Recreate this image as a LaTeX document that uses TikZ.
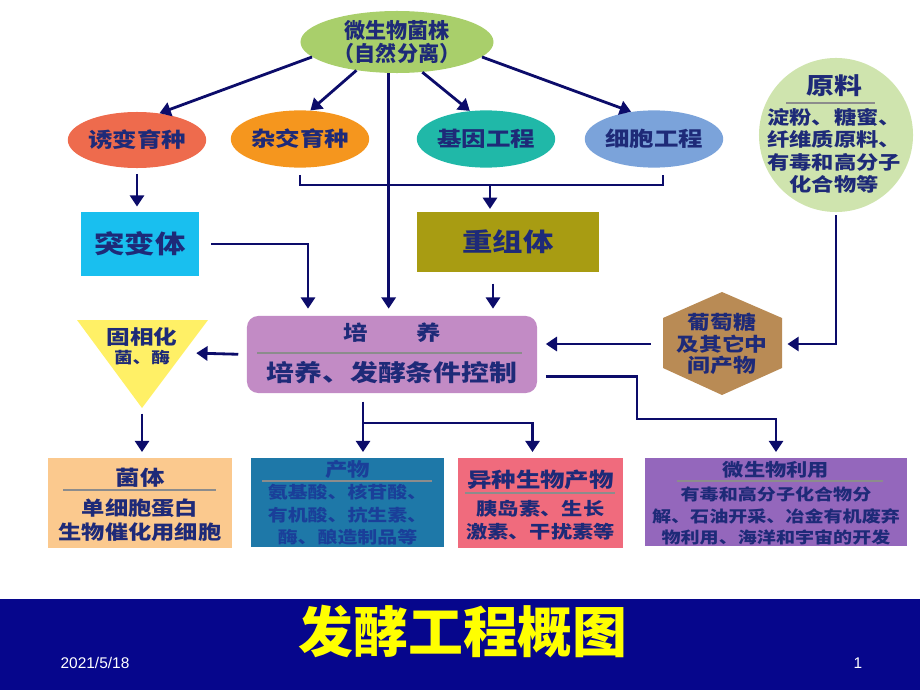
\documentclass[tikz,border=0pt]{standalone}
\usepackage{fontspec}
\setmainfont{Noto Sans CJK SC}[FakeStretch=1.2]
\newfontfamily\plaincjk{Noto Sans CJK SC}
\newfontfamily\latinsans{Liberation Sans}
\usepackage{tikz}
\usetikzlibrary{arrows.meta, positioning, shapes.geometric, calc}

\definecolor{inkblue}{HTML}{1E2A78}
\definecolor{linkblue}{HTML}{0C0C6A}
\definecolor{sepgray}{HTML}{8C8C8C}
\definecolor{srcgreen}{HTML}{A9CF6B}
\definecolor{mutcoral}{HTML}{EE6B4D}
\definecolor{hyborange}{HTML}{F5961E}
\definecolor{geneteal}{HTML}{20B8A8}
\definecolor{cellblue}{HTML}{7BA3DA}
\definecolor{mutcyan}{HTML}{19BFEF}
\definecolor{recolive}{HTML}{A89C12}
\definecolor{culpink}{HTML}{C28BC5}
\definecolor{rawgreen}{HTML}{CFE4AE}
\definecolor{glubrown}{HTML}{B98B55}
\definecolor{immobyellow}{HTML}{FFF066}
\definecolor{cellpeach}{HTML}{FBC98E}
\definecolor{prodblue}{HTML}{1E78A8}
\definecolor{prodink}{HTML}{1A3F99}
\definecolor{heterred}{HTML}{F06B7D}
\definecolor{usepurple}{HTML}{9467BC}
\definecolor{barblue}{HTML}{06068C}
\definecolor{titleyellow}{HTML}{FFFF00}

\begin{document}
\begin{tikzpicture}[
  x=0.025cm, y=-0.025cm,
  oval/.style={ellipse, inner sep=0pt, minimum width=3.25cm, minimum height=1.43cm, text=inkblue, font=\bfseries\fontsize{14.5}{16}\selectfont},
  flat/.style={rectangle, inner sep=0pt},
  title/.style={text=inkblue, inner sep=1pt, font=\bfseries\fontsize{14.5}{16}\selectfont},
  body/.style={text=inkblue, align=center, inner sep=1pt},
  arrow/.style={-{Triangle[width=10pt,length=8pt]}, line width=2pt, draw=linkblue},
  link/.style={line width=2pt, draw=linkblue},
  sepline/.style={line width=1.3pt, draw=sepgray}
]
\useasboundingbox (0,0) rectangle (920,690);

% Source strain
\node[oval, fill=srcgreen, minimum width=4.825cm, minimum height=1.55cm, align=center,
  font=\plaincjk\bfseries\fontsize{15}{16.5}\selectfont] (src) at (397,42) {微生物菌株\\（自然分离）};

% Breeding methods
\node[oval, fill=mutcoral, minimum width=3.2cm, minimum height=1.4cm] (mutb) at (137,140) {诱变育种};
\node[oval, fill=hyborange] (hyb) at (300,139) {杂交育种};
\node[oval, fill=geneteal, minimum width=3.325cm] (gene) at (486,139) {基因工程};
\node[oval, fill=cellblue, minimum width=3.3cm] (cellb) at (654,139) {细胞工程};

% Strains obtained
\node[flat, fill=mutcyan, minimum width=2.925cm, minimum height=1.575cm, text=inkblue,
  font=\bfseries\fontsize{18}{20}\selectfont] (mutant) at (140,244) {突变体};
\node[flat, fill=recolive, minimum width=4.55cm, minimum height=1.5cm, text=inkblue,
  font=\bfseries\fontsize{18}{20}\selectfont] (recomb) at (508,242) {重组体};

% Culture box
\node[flat, fill=culpink, rounded corners=8pt, minimum width=7.25cm, minimum height=1.925cm] (culture) at (392,354.5) {};
\node[title] (culture-t) at (392,333) {培\hspace{2.4em}养};
\draw[sepline] (257,353) -- (522,353);
\node[title, font=\bfseries\fontsize{16.5}{18}\selectfont] (culture-b) at (392,373) {培养、发酵条件控制};

% Raw material
\node[circle, fill=rawgreen, minimum size=3.85cm, inner sep=0pt] (raw) at (836,135) {};
\node[title, font=\bfseries\fontsize{16.5}{18}\selectfont] (raw-t) at (834,86) {原料};
\draw[sepline] (786,103) -- (875,103);
\node[body, font=\bfseries\fontsize{13.2}{16}\selectfont] (raw-b) at (834,151) {淀粉、糖蜜、\\纤维质原料、\\有毒和高分子\\化合物等};

% Glucose hexagon
\fill[glubrown] (663,318) -- (722,292) -- (782,318) -- (782,368) -- (722,395) -- (663,368) -- cycle;
\node[body, minimum width=2.975cm, font=\bfseries\fontsize{13.5}{15.5}\selectfont] (glu) at (722,344) {葡萄糖\\及其它中\\间产物};

% Immobilisation triangle
\fill[immobyellow] (77,320) -- (208,320) -- (142,408) -- cycle;
\coordinate (immob-in) at (192,353);
\coordinate (immob-tip) at (142,408);
\node[title, font=\bfseries\fontsize{14}{15}\selectfont] (immob) at (142,337) {固相化};
\node[title, font=\bfseries\fontsize{11}{12}\selectfont] (immob-b) at (142,358) {菌、酶};

% Products
\node[flat, fill=cellpeach, minimum width=4.6cm, minimum height=2.25cm] (cells) at (140,503) {};
\node[title] (cells-t) at (140,478) {菌体};
\draw[sepline] (63,490) -- (216,490);
\node[body, font=\bfseries\fontsize{13.8}{17}\selectfont] (cells-b) at (140,520) {单细胞蛋白\\生物催化用细胞};

\node[flat, fill=prodblue, minimum width=4.825cm, minimum height=2.225cm] (prod) at (347.5,502.5) {};
\node[title, text=prodink, font=\bfseries\fontsize{13.3}{14}\selectfont] (prod-t) at (347.5,469) {产物};
\draw[sepline] (262,481) -- (432,481);
\node[body, text=prodink, font=\bfseries\fontsize{11.8}{16}\selectfont] (prod-b) at (347.5,515) {氨基酸、核苷酸、\\有机酸、抗生素、\\酶、酿造制品等};

\node[flat, fill=heterred, minimum width=4.125cm, minimum height=2.25cm] (heter) at (540.5,503) {};
\node[title] (heter-t) at (540.5,480) {异种生物产物};
\draw[sepline] (465,493) -- (615,493);
\node[body, font=\bfseries\fontsize{12.6}{16.3}\selectfont] (heter-b) at (540.5,520) {胰岛素、生长\\激素、干扰素等};

\node[flat, fill=usepurple, minimum width=6.55cm, minimum height=2.2cm] (use) at (776,502) {};
\node[title, font=\bfseries\fontsize{12.6}{14}\selectfont] (use-t) at (776,470) {微生物利用};
\draw[sepline] (677,481) -- (883,481);
\node[body, font=\bfseries\fontsize{11.3}{15}\selectfont] (use-b) at (776,516) {有毒和高分子化合物分\\解、石油开采、冶金有机废弃\\物利用、海洋和宇宙的开发};

% Connectors
\draw[arrow] (src.190) -- (mutb.50);
\draw[arrow] (src.215) -- (hyb.70);
\draw[arrow, shorten >=5pt] (src.255) -- (src.255 |- culture.north);
\draw[arrow] (src.310) -- (gene.120);
\draw[arrow] (src.350) -- (cellb.130);

\draw[arrow, shorten <=4pt, shorten >=4pt] (mutb.south) -- (mutb.south |- mutant.north);
\coordinate (brk) at (490,185);
\draw[link, shorten <=5pt, shorten >=5pt] (hyb.south) |- (brk) -| ([xshift=0.225cm]cellb.south);
\draw[arrow, shorten >=2pt] (brk) -- (brk |- recomb.north);

\draw[arrow, shorten <=9pt, shorten >=5pt] (mutant.east) -| ([xshift=-2.1cm]culture.north);
\draw[arrow, shorten <=8pt, shorten >=5pt] ([xshift=-0.375cm]recomb.south) -- ([xshift=-0.375cm]recomb.south |- culture.north);

\draw[arrow, shorten <=6pt, shorten >=3pt] (culture.west) -- (immob-in);
\draw[arrow, shorten <=8pt, shorten >=6pt] (glu.west) -- (glu.west -| culture.east);
\draw[arrow, shorten <=2pt, shorten >=4pt] (raw.south) |- (glu.east);

\coordinate (turn) at (637,419);
\draw[arrow, shorten <=6pt, shorten >=4pt] ([yshift=-0.54cm]culture.east) -| (turn) -| (use.north);

\coordinate (split) at (363,423);
\draw[arrow, shorten <=6pt, shorten >=4pt] (culture.south -| split) -- (split |- prod.north);
\draw[arrow, shorten >=4pt] (split) -| ([xshift=-0.2cm]heter.north);
\draw[arrow, shorten <=4pt, shorten >=4pt] (immob-tip) -- (immob-tip |- cells.north);

% Title bar
\fill[barblue] (0,599) rectangle (920,690);
\node[font=\plaincjk\bfseries\fontsize{39}{40}\selectfont, text=titleyellow] (title) at (463,632) {发酵工程概图};
\node[font=\latinsans\fontsize{11}{12}\selectfont, text=white] (date) at (95,663) {2021/5/18};
\node[font=\latinsans\fontsize{11}{12}\selectfont, text=white] (page) at (858,663) {1};

\end{tikzpicture}
\end{document}
